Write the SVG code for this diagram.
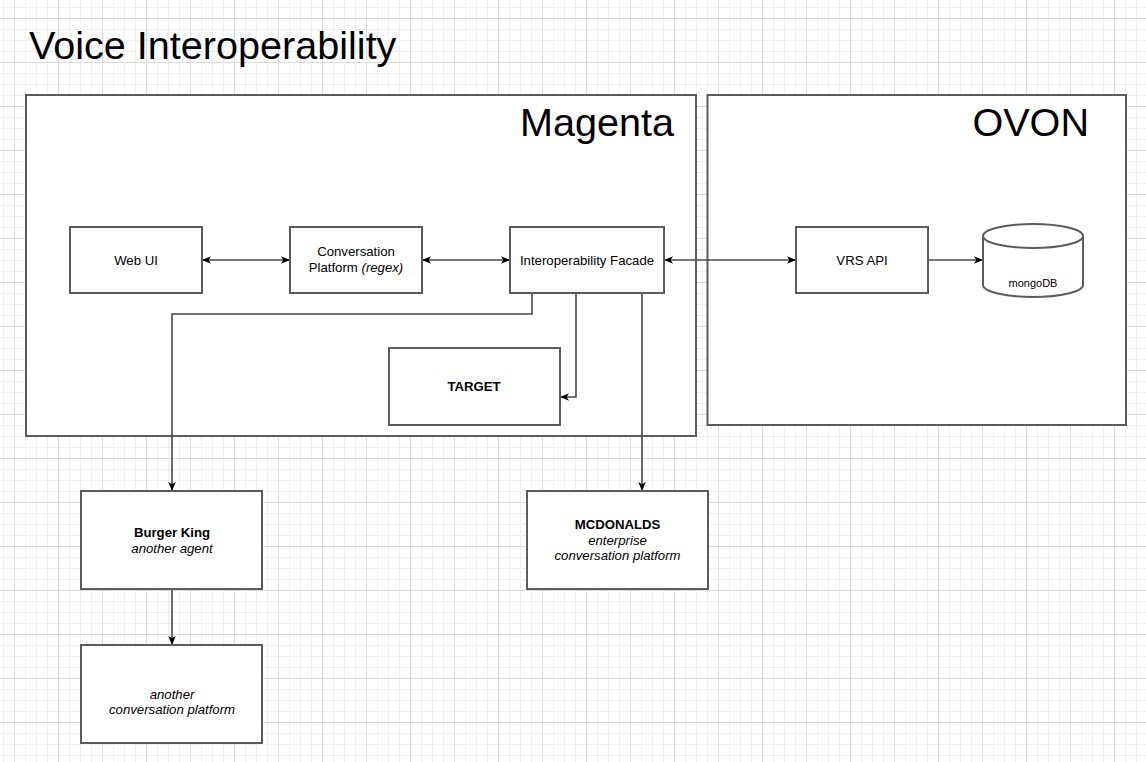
<svg xmlns="http://www.w3.org/2000/svg" width="1146" height="762" viewBox="0 0 1146 762">
<defs>
<pattern id="grid" x="14" y="18" width="44" height="44" patternUnits="userSpaceOnUse">
<rect width="44" height="44" fill="#ffffff"/>
<rect x="11" y="0" width="1" height="44" fill="#f0f0f0"/>
<rect x="22" y="0" width="1" height="44" fill="#f0f0f0"/>
<rect x="33" y="0" width="1" height="44" fill="#f0f0f0"/>
<rect x="0" y="11" width="44" height="1" fill="#f0f0f0"/>
<rect x="0" y="22" width="44" height="1" fill="#f0f0f0"/>
<rect x="0" y="33" width="44" height="1" fill="#f0f0f0"/>
<rect x="0" y="0" width="1" height="44" fill="#dcdcdc"/>
<rect x="0" y="0" width="44" height="1" fill="#dcdcdc"/>
</pattern>
<marker id="arr" viewBox="0 0 10 10" refX="10" refY="5" markerWidth="9" markerHeight="9" markerUnits="userSpaceOnUse" orient="auto-start-reverse">
<path d="M0,0.8 L10,5 L0,9.2 L2.6,5 Z" fill="#000"/>
</marker>
<style>
.box{fill:#ffffff;stroke:#5c5c5c;stroke-width:2}
.con{fill:none;stroke:#4a4a4a;stroke-width:1.6}
.t{font-family:"Liberation Sans",Arial,Helvetica,sans-serif;font-size:13.2px;fill:#000;text-anchor:middle}
.big{font-family:"Liberation Sans",Arial,Helvetica,sans-serif;font-size:39.6px;fill:#000}
.b{font-weight:bold}
.i{font-style:italic}
</style>
</defs>
<rect x="0" y="0" width="1146" height="762" fill="url(#grid)"/>
<text class="big" x="29" y="59">Voice Interoperability</text>

<g id="magenta">
<rect class="box" x="26" y="95" width="670" height="341"/>
<text class="big" x="674" y="136" text-anchor="end">Magenta</text>
</g>
<g id="ovon">
<rect class="box" x="707.5" y="95" width="418.5" height="330"/>
<text class="big" x="1089" y="136" text-anchor="end">OVON</text>
</g>

<g id="connectors">
<path class="con" d="M202,260 H290" marker-start="url(#arr)" marker-end="url(#arr)"/>
<path class="con" d="M422,260 H510" marker-start="url(#arr)" marker-end="url(#arr)"/>
<path class="con" d="M664,260 H796" marker-start="url(#arr)" marker-end="url(#arr)"/>
<path class="con" d="M928,260 H983" marker-end="url(#arr)"/>
<path class="con" d="M532,293 V314 H172 V491" marker-end="url(#arr)"/>
<path class="con" d="M576,293 V397 H560" marker-end="url(#arr)"/>
<path class="con" d="M642,293 V491" stroke="#111" marker-end="url(#arr)"/>
<path class="con" d="M172,589 V645" marker-end="url(#arr)"/>
</g>

<g id="webui">
<rect class="box" x="70" y="227" width="132" height="66"/>
<text class="t" x="136" y="264.5">Web UI</text>
</g>
<g id="conversation-platform">
<rect class="box" x="290" y="227" width="132" height="66"/>
<text class="t" x="356" y="256">Conversation</text>
<text class="t" x="356" y="272">Platform <tspan class="i">(regex)</tspan></text>
</g>
<g id="interop-facade">
<rect class="box" x="510" y="227" width="154" height="66"/>
<text class="t" x="587" y="264.5">Interoperability Facade</text>
</g>
<g id="vrs-api">
<rect class="box" x="796" y="227" width="132" height="66"/>
<text class="t" x="862" y="264.5">VRS API</text>
</g>
<g id="mongodb">
<path class="box" d="M983,236 V285 A50,12 0 0 0 1083,285 V236 A50,12 0 0 0 983,236 Z"/>
<path class="box" d="M983,236 A50,12 0 0 0 1083,236" fill="none"/>
<text class="t" x="1033" y="287" style="font-size:11px">mongoDB</text>
</g>
<g id="target">
<rect class="box" x="389" y="348" width="171" height="77"/>
<text class="t b" x="474" y="391">TARGET</text>
</g>
<g id="burger-king">
<rect class="box" x="81" y="491" width="181" height="98"/>
<text class="t b" x="172" y="536.5">Burger King</text>
<text class="t i" x="172" y="552.5">another agent</text>
</g>
<g id="another-platform">
<rect class="box" x="81" y="645" width="181" height="98"/>
<text class="t i" x="172" y="698.5">another</text>
<text class="t i" x="172" y="714">conversation platform</text>
</g>
<g id="mcdonalds">
<rect class="box" x="527" y="491" width="181" height="98"/>
<text class="t b" x="617.5" y="528.5">MCDONALDS</text>
<text class="t i" x="617.5" y="544.5">enterprise</text>
<text class="t i" x="617.5" y="560">conversation platform</text>
</g>
</svg>
